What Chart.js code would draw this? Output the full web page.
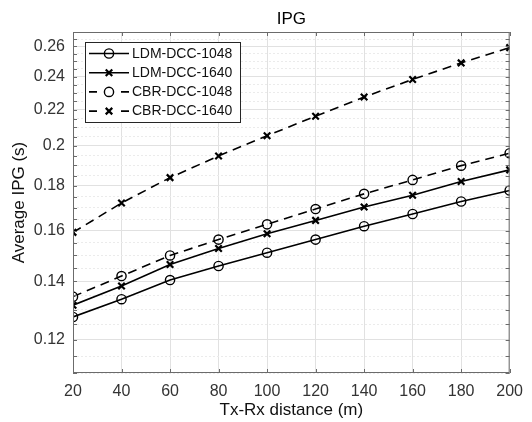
<!DOCTYPE html>
<html><head><meta charset="utf-8">
<script src="https://cdn.jsdelivr.net/npm/chart.js@4/dist/chart.umd.min.js"></script>
<style>html,body{margin:0;padding:0;background:#fff;} #wrap{width:532px;height:422px;position:relative;}</style>
</head><body><div id="wrap"><canvas id="c" width="532" height="422"></canvas></div>
<script>
// ---- data ----
const distances = [20, 40, 60, 80, 100, 120, 140, 160, 180, 200];
const ldm1048 = [0.1275, 0.1336, 0.1405, 0.1458, 0.1510, 0.1563, 0.1619, 0.1672, 0.1728, 0.1779];
const ldm1640 = [0.1315, 0.1383, 0.1464, 0.1527, 0.1587, 0.1644, 0.1703, 0.1757, 0.1821, 0.1878];
const cbr1048 = [0.1345, 0.1420, 0.1499, 0.1563, 0.1627, 0.1694, 0.1763, 0.1829, 0.1899, 0.1962];
const cbr1640 = [0.1593, 0.1721, 0.1840, 0.1948, 0.2055, 0.2163, 0.2275, 0.2383, 0.2489, 0.2591];
const seriesNames = ['LDM-DCC-1048', 'LDM-DCC-1640', 'CBR-DCC-1048', 'CBR-DCC-1640'];
const xTickValues = [20, 40, 60, 80, 100, 120, 140, 160, 180, 200];
const yTickValues = [0.12, 0.14, 0.16, 0.18, 0.2, 0.22, 0.24, 0.26];
const yTickLabels = ['0.12', '0.14', '0.16', '0.18', '0.2', '0.22', '0.24', '0.26'];
const yMin = 0.11, yMax = 0.27, yMinorStep = 0.005;
const titleText = 'IPG';
const xTitle = 'Tx-Rx distance (m)';
const yTitle = 'Average IPG (s)';

const FONT = '"Liberation Sans", Arial, Helvetica, sans-serif';

function makeDs(label, vals, style, dashed) {
  return {
    label,
    data: distances.map((x, i) => ({ x, y: vals[i] })),
    borderColor: '#000',
    backgroundColor: 'rgba(0,0,0,0)',
    borderWidth: 1.6,
    borderDash: dashed ? [9, 6] : [],
    pointStyle: style,
    pointRadius: 4.6,
    pointBorderWidth: style === 'circle' ? 1.4 : 2.2,
    pointBackgroundColor: 'rgba(0,0,0,0)',
    pointBorderColor: '#000',
    pointHoverRadius: 4.6,
    tension: 0,
    fill: false
  };
}

const datasets = [
  makeDs(seriesNames[0], ldm1048, 'circle', false),
  makeDs(seriesNames[1], ldm1640, 'crossRot', false),
  makeDs(seriesNames[2], cbr1048, 'circle', true),
  makeDs(seriesNames[3], cbr1640, 'crossRot', true)
];

function isMajor(v) {
  return yTickValues.some(t => Math.abs(t - v) < 1e-9);
}

function drawMarker(ctx, style, cx, cy, r, bw) {
  ctx.save();
  ctx.setLineDash([]);
  ctx.lineWidth = bw;
  ctx.strokeStyle = '#000';
  ctx.beginPath();
  if (style === 'circle') {
    ctx.arc(cx, cy, r, 0, Math.PI * 2);
  } else {
    const o = r * Math.SQRT1_2;
    ctx.moveTo(cx - o, cy - o); ctx.lineTo(cx + o, cy + o);
    ctx.moveTo(cx - o, cy + o); ctx.lineTo(cx + o, cy - o);
  }
  ctx.stroke();
  ctx.restore();
}

const decor = {
  id: 'decor',
  afterDraw(chart) {
    const { ctx, chartArea: a, scales: { x, y } } = chart;
    ctx.save();
    // frame
    ctx.strokeStyle = '#6b6b6b';
    ctx.lineWidth = 1;
    ctx.setLineDash([]);
    ctx.strokeRect(a.left + 0.5, a.top + 0.5, a.right - a.left - 1, a.bottom - a.top - 1);
    // inward ticks
    ctx.beginPath();
    x.ticks.forEach(t => {
      const px = Math.round(x.getPixelForValue(t.value)) + 0.5;
      ctx.moveTo(px, a.bottom); ctx.lineTo(px, a.bottom - 4);
      ctx.moveTo(px, a.top); ctx.lineTo(px, a.top + 4);
    });
    y.ticks.forEach(t => {
      const py = Math.round(y.getPixelForValue(t.value)) + 0.5;
      ctx.moveTo(a.left, py); ctx.lineTo(a.left + 4, py);
      ctx.moveTo(a.right, py); ctx.lineTo(a.right - 4, py);
    });
    ctx.stroke();

    // legend box
    const lx = a.left + 12, ly = a.top + 10, lw = 156, lh = 81;
    ctx.fillStyle = '#fff';
    ctx.fillRect(lx, ly, lw, lh);
    ctx.strokeStyle = '#262626';
    ctx.strokeRect(lx + 0.5, ly + 0.5, lw - 1, lh - 1);
    ctx.font = '14px ' + FONT;
    ctx.textAlign = 'left';
    ctx.textBaseline = 'middle';
    chart.data.datasets.forEach((d, i) => {
      const cy = ly + 11.5 + i * 19.2;
      const x0 = lx + 4, x1 = lx + 44, cx = (x0 + x1) / 2;
      ctx.strokeStyle = '#000';
      ctx.lineWidth = d.borderWidth;
      ctx.beginPath();
      if (d.borderDash && d.borderDash.length) {
        ctx.moveTo(x0, cy); ctx.lineTo(x0 + 8, cy);
        ctx.moveTo(x1 - 8, cy); ctx.lineTo(x1, cy);
      } else {
        ctx.moveTo(x0, cy); ctx.lineTo(x1, cy);
      }
      ctx.stroke();
      drawMarker(ctx, d.pointStyle, cx, cy, d.pointRadius, d.pointBorderWidth);
      ctx.fillStyle = '#111';
      ctx.fillText(d.label, lx + 47, cy + 0.5);
    });

    // title
    ctx.fillStyle = '#000';
    ctx.font = '17px ' + FONT;
    ctx.textAlign = 'center';
    ctx.textBaseline = 'middle';
    ctx.fillText(titleText, (a.left + a.right) / 2, 19);
    ctx.restore();
  }
};

new Chart(document.getElementById('c'), {
  type: 'line',
  data: { datasets },
  options: {
    responsive: false,
    devicePixelRatio: 1,
    animation: false,
    layout: { padding: { left: 0, right: 21, top: 32, bottom: 0 } },
    plugins: {
      legend: { display: false },
      title: { display: false },
      tooltip: { enabled: false }
    },
    scales: {
      x: {
        type: 'linear',
        min: 20, max: 200,
        afterFit: s => { s.height = 49; },
        afterBuildTicks: s => { s.ticks = xTickValues.map(v => ({ value: v })); },
        ticks: {
          autoSkip: false, maxRotation: 0, padding: 9,
          color: '#333', font: { family: FONT, size: 16 },
          callback: v => String(v)
        },
        grid: { color: '#e1e1e1', lineWidth: 1, drawTicks: false },
        border: { display: false },
        title: {
          display: true, text: xTitle, color: '#111',
          font: { family: FONT, size: 17 }, padding: { top: 0, bottom: 1 }
        }
      },
      y: {
        type: 'logarithmic',
        min: yMin, max: yMax,
        afterFit: s => { s.width = 73; },
        afterBuildTicks: s => {
          const ticks = [];
          const n = Math.round((yMax - yMin) / yMinorStep);
          for (let i = 0; i <= n; i++) {
            ticks.push({ value: Math.round((yMin + i * yMinorStep) * 1000) / 1000 });
          }
          s.ticks = ticks;
        },
        ticks: {
          autoSkip: false, padding: 8,
          color: '#333', font: { family: FONT, size: 16 },
          callback: v => {
            const idx = yTickValues.findIndex(t => Math.abs(t - v) < 1e-9);
            return idx >= 0 ? yTickLabels[idx] : '';
          }
        },
        grid: {
          drawTicks: false,
          lineWidth: 1,
          color: c => (c.tick && isMajor(c.tick.value)) ? '#e1e1e1' : '#ebebeb'
        },
        border: {
          display: false,
          dash: c => (c.tick && !isMajor(c.tick.value)) ? [2, 2] : []
        },
        title: {
          display: true, text: yTitle, color: '#111',
          font: { family: FONT, size: 17 }, padding: { top: 9, bottom: 0 }
        }
      }
    }
  },
  plugins: [decor]
});
</script>
</body></html>
